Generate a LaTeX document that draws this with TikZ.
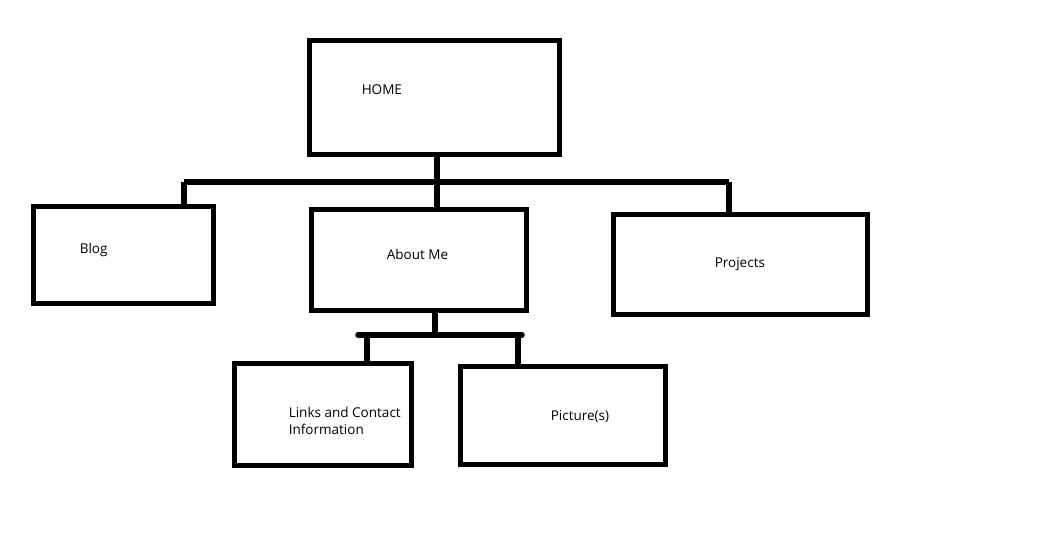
\documentclass[tikz,border=0pt]{standalone}
\usepackage{fontspec}
\setmainfont{Open Sans}
\usetikzlibrary{positioning}

\begin{document}
\begin{tikzpicture}[x=0.02cm,y=-0.02cm,line width=0.11cm,
        box/.style={draw,inner sep=0pt,outer sep=0pt},
        txt/.style={font=\fontsize{7.7}{9.4}\selectfont,inner sep=0pt,anchor=west}]
    \useasboundingbox (0,0) rectangle (1061,548);
    % boxes
    \node[box,minimum width=5cm,minimum height=2.28cm] (home) at (434.5,97.5) {};
    \node[box,minimum width=3.6cm,minimum height=1.94cm] (blog) at (123.5,255) {};
    \node[box,minimum width=4.3cm,minimum height=2.02cm] (about) at (419,260) {};
    \node[box,minimum width=5.08cm,minimum height=2cm] (proj) at (740.5,264.5) {};
    \node[box,minimum width=3.54cm,minimum height=2.04cm] (links) at (323,414.5) {};
    \node[box,minimum width=4.1cm,minimum height=1.96cm] (pics) at (563,415.5) {};
    % labels
    \node[txt] (homet) at (359,89.5) {HOME};
    \node[txt] (blogt) at (77,249.5) {Blog};
    \node[txt] (aboutt) at (384,254) {About Me};
    \node[txt] (projt) at (712,264) {Projects};
    \node[txt,align=left] (linkst) at (286,421) {Links and Contact\\Information};
    \node[txt] (picst) at (548,417) {Picture(s)};
    % connectors
    \coordinate (busL) at (184,182);
    \coordinate (busM) at (437,182);
    \coordinate (busR) at (729,182);
    \draw (busM |- home.south) -- (busM) -- (busM |- about.north);
    \draw (busL) -- (busR);
    \draw (busL) -- (busL |- blog.north);
    \draw (busR) -- (busR |- proj.north);
    \coordinate (subL) at (358,335);
    \coordinate (subM) at (435,335);
    \coordinate (subR) at (522,335);
    \coordinate (dropL) at (367,335);
    \coordinate (dropR) at (518,335);
    \draw (subM |- about.south) -- (subM);
    \draw[line cap=round] (subL) -- (subR);
    \draw (dropL) -- (dropL |- links.north);
    \draw (dropR) -- (dropR |- pics.north);
\end{tikzpicture}
\end{document}
